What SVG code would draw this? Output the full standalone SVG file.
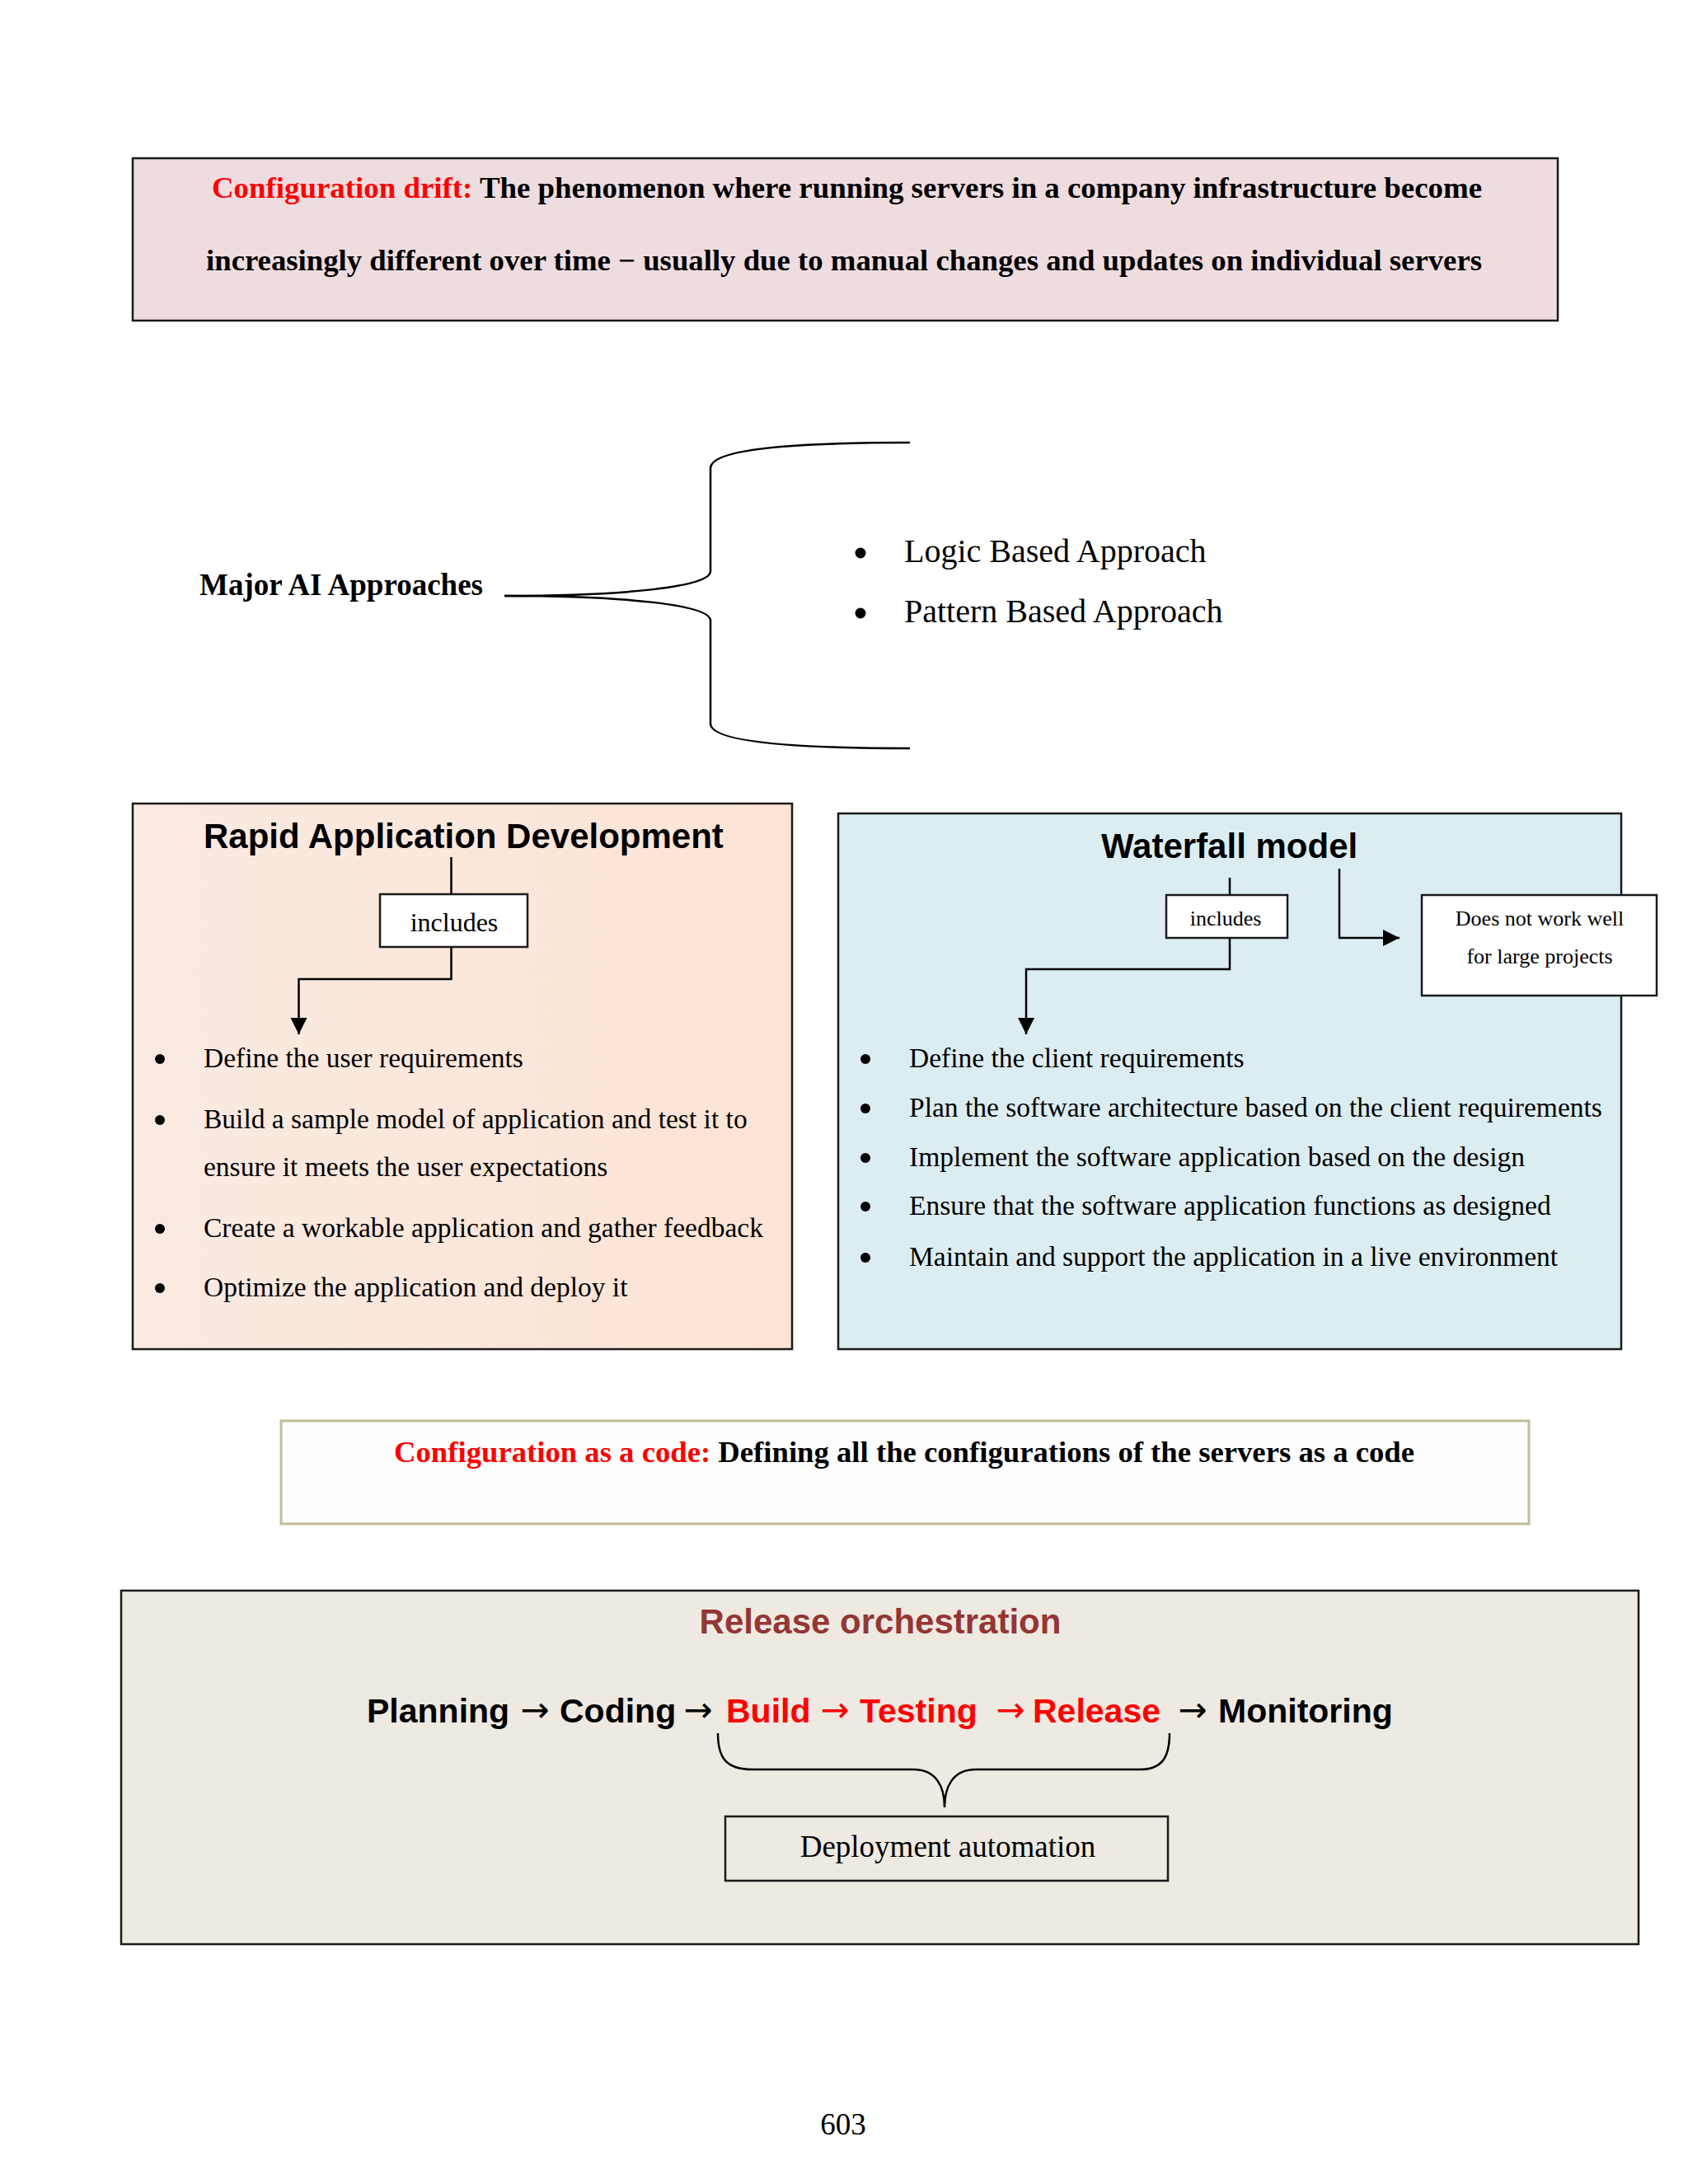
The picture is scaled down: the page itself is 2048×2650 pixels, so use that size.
<svg xmlns="http://www.w3.org/2000/svg" width="2048" height="2650" viewBox="0 0 2048 2650">
<style>
.serif{font-family:"Liberation Serif","Times New Roman",serif;fill:#000}
.bold{font-weight:bold}
.sans{font-family:"Liberation Sans",Arial,sans-serif;font-weight:bold;fill:#000}
.arrow{font-family:"DejaVu Sans","Liberation Sans",sans-serif;font-weight:normal;fill:#000}
.red{fill:#FF0000}
.box{stroke:#1a1a1a;stroke-width:2.5}
.conn{fill:none;stroke:#000;stroke-width:2.5}
.dot{fill:#000}
</style>
<defs>
<marker id="arr" markerUnits="userSpaceOnUse" markerWidth="20" markerHeight="20" refX="20" refY="10" orient="auto">
<path d="M0,0 L20,10 L0,20 z" fill="#000"/>
</marker>
<linearGradient id="radFill" x1="0" y1="0" x2="1" y2="0">
<stop offset="0" stop-color="#FAEAE2"/>
<stop offset="1" stop-color="#FDE4D4"/>
</linearGradient>
</defs>
<rect width="2048" height="2650" fill="#FFFFFF"/>

<g id="config-drift">
<rect x="161" y="192" width="1729" height="197" fill="#EFDCDF" class="box"/>
<text class="serif bold" font-size="36" x="257" y="240" textLength="1541" lengthAdjust="spacingAndGlyphs"><tspan class="red">Configuration drift:</tspan> The phenomenon where running servers in a company infrastructure become</text>
<text class="serif bold" font-size="36" x="250" y="328" textLength="1548" lengthAdjust="spacingAndGlyphs">increasingly different over time − usually due to manual changes and updates on individual servers</text>
</g>

<g id="major-ai">
<text class="serif bold" font-size="37" x="242" y="722">Major AI Approaches</text>
<path class="conn" d="M612,723 C760,723 862,712 862,693 V568 C862,545 960,537 1104,537"/>
<path class="conn" d="M612,723 C760,723 862,734 862,753 V878 C862,900 960,908 1104,908"/>
<circle class="dot" cx="1044" cy="671" r="6.5"/>
<text class="serif" font-size="40" x="1097" y="682">Logic Based Approach</text>
<circle class="dot" cx="1044" cy="744" r="6.5"/>
<text class="serif" font-size="40" x="1097" y="755">Pattern Based Approach</text>
</g>

<g id="rad">
<rect x="161" y="975" width="800" height="662" fill="url(#radFill)" class="box"/>
<text class="sans" font-size="42" x="247" y="1029">Rapid Application Development</text>
<g id="rad-includes">
<rect x="461" y="1085" width="179" height="64" fill="#FFFFFF" class="box"/>
<text class="serif" font-size="32" x="551" y="1130" text-anchor="middle">includes</text>
</g>
<circle class="dot" cx="194" cy="1285" r="6"/>
<text class="serif" font-size="33.5" x="247" y="1295">Define the user requirements</text>
<circle class="dot" cx="194" cy="1359" r="6"/>
<text class="serif" font-size="33.5" x="247" y="1369">Build a sample model of application and test it to</text>
<text class="serif" font-size="33.5" x="247" y="1427">ensure it meets the user expectations</text>
<circle class="dot" cx="194" cy="1491" r="6"/>
<text class="serif" font-size="33.5" x="247" y="1501">Create a workable application and gather feedback</text>
<circle class="dot" cx="194" cy="1563" r="6"/>
<text class="serif" font-size="33.5" x="247" y="1573">Optimize the application and deploy it</text>
</g>

<g id="waterfall">
<rect x="1017" y="987" width="950" height="650" fill="#DCEDF2" class="box"/>
<text class="sans" font-size="42" x="1336" y="1041">Waterfall model</text>
<g id="wf-includes">
<rect x="1415" y="1086" width="147" height="52" fill="#FFFFFF" class="box"/>
<text class="serif" font-size="26" x="1487" y="1123" text-anchor="middle">includes</text>
</g>
<circle class="dot" cx="1050" cy="1285" r="6"/>
<text class="serif" font-size="33.5" x="1103" y="1295">Define the client requirements</text>
<circle class="dot" cx="1050" cy="1345" r="6"/>
<text class="serif" font-size="33.5" x="1103" y="1355">Plan the software architecture based on the client requirements</text>
<circle class="dot" cx="1050" cy="1405" r="6"/>
<text class="serif" font-size="33.5" x="1103" y="1415">Implement the software application based on the design</text>
<circle class="dot" cx="1050" cy="1464" r="6"/>
<text class="serif" font-size="33.5" x="1103" y="1474">Ensure that the software application functions as designed</text>
<circle class="dot" cx="1050" cy="1526" r="6"/>
<text class="serif" font-size="33.5" x="1103" y="1536">Maintain and support the application in a live environment</text>
</g>

<g id="not-large">
<rect x="1725" y="1086" width="285" height="122" fill="#FFFFFF" class="box"/>
<text class="serif" font-size="26" x="1868" y="1123" text-anchor="middle">Does not work well</text>
<text class="serif" font-size="26" x="1868" y="1169" text-anchor="middle">for large projects</text>
</g>

<g id="config-code">
<rect x="341" y="1724" width="1514" height="125" fill="#FEFEFE" stroke="#C4BC96" stroke-width="3"/>
<text class="serif bold" font-size="36" x="478" y="1774" textLength="1238" lengthAdjust="spacingAndGlyphs"><tspan class="red">Configuration as a code:</tspan> Defining all the configurations of the servers as a code</text>
</g>

<g id="release">
<rect x="147" y="1930" width="1841" height="429" fill="#EEE9E1" class="box"/>
<text class="sans" font-size="42" x="1068" y="1982" text-anchor="middle" style="fill:#943634">Release orchestration</text>
<g id="pipeline" font-size="41">
<text class="sans" x="445" y="2090">Planning</text>
<text class="arrow" font-size="42" x="649" y="2089" text-anchor="middle">→</text>
<text class="sans" x="679" y="2090">Coding</text>
<text class="arrow" font-size="42" x="847" y="2089" text-anchor="middle">→</text>
<text class="sans red" x="881" y="2090">Build</text>
<text class="arrow red" font-size="42" x="1013" y="2089" text-anchor="middle">→</text>
<text class="sans red" x="1043" y="2090">Testing</text>
<text class="arrow red" font-size="42" x="1226" y="2089" text-anchor="middle">→</text>
<text class="sans red" x="1253" y="2090">Release</text>
<text class="arrow" font-size="42" x="1447" y="2089" text-anchor="middle">→</text>
<text class="sans" x="1478" y="2090">Monitoring</text>
</g>
<g id="deploy">
<rect x="880" y="2204" width="537" height="78" fill="none" class="box"/>
<text class="serif" font-size="37" x="1150" y="2253" text-anchor="middle">Deployment automation</text>
</g>
</g>

<g id="connectors">
<path class="conn" d="M547.5,1040 V1085"/>
<path class="conn" d="M547.5,1149 V1188 H362.5 V1255" marker-end="url(#arr)"/>
<path class="conn" d="M1492,1065 V1086"/>
<path class="conn" d="M1492,1138 V1176 H1245 V1255" marker-end="url(#arr)"/>
<path class="conn" d="M1625,1054 V1138 H1698" marker-end="url(#arr)"/>
<path class="conn" d="M871,2103 C871,2132 880,2147 913,2147 H1108 C1136,2147 1146,2168 1146,2193 C1146,2168 1156,2147 1184,2147 H1383 C1410,2147 1419,2132 1419,2103"/>
</g>

<text class="serif" font-size="37" x="1023" y="2590" text-anchor="middle">603</text>
</svg>
